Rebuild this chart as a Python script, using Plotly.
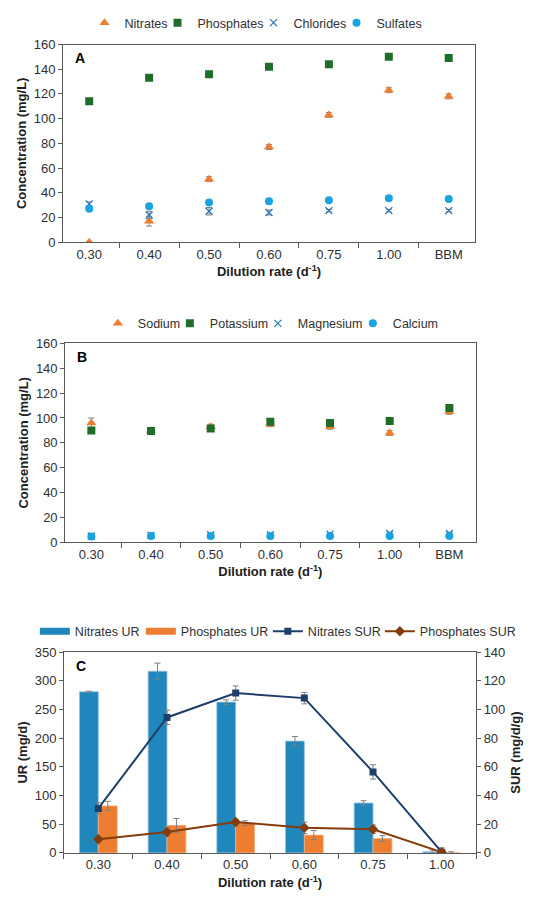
import plotly.graph_objects as go

# panel A / B categories
rates = ['0.30', '0.40', '0.50', '0.60', '0.75', '1.00', 'BBM']

# panel A - anions (mg/L)
nitrates = [0, 17, 51, 77, 103, 123, 118]
nitrates_err = [0.5, 4, 2, 2, 2, 2, 2]
phosphates = [114, 133, 136, 142, 144, 150, 149]
phosphates_err = [2, 2, 1.5, 1.5, 1.5, 1.5, 1.5]
chlorides = [31, 22, 25, 24, 25.5, 25.5, 25.5]
chlorides_err = [1.5, 3, 3, 2, 1, 1, 1]
sulfates = [27, 29, 32, 33, 34, 35.5, 35]
sulfates_err = [1, 1, 1, 1, 1, 1, 1]

# panel B - cations (mg/L)
sodium = [96, 90, 93, 95, 93, 88, 105]
sodium_err = [4, 1, 2, 2, 2, 2, 2]
potassium = [90, 89.5, 91.5, 97, 96, 97.5, 108]
potassium_err = [1, 1, 1, 1, 1, 1, 1]
magnesium = [5, 5.5, 6, 6, 6.5, 7, 7]
magnesium_err = [1, 1, 1, 1, 1, 1, 1]
calcium = [4.5, 5, 5, 5, 5, 5, 5]
calcium_err = [1, 1, 1, 1, 1, 1, 1]

# panel C - uptake rates
rates_c = ['0.30', '0.40', '0.50', '0.60', '0.75', '1.00']
nit_ur = [281, 317, 263, 195, 87, 2]
nit_ur_err = [1, 14, 4, 8, 4, 3]
pho_ur = [82, 48, 52, 31, 25, 0]
pho_ur_err = [8, 12, 4, 8, 5, 2]
nit_sur = [31, 94.5, 111.5, 108, 56.5, 0.5]
nit_sur_err = [4, 5, 5, 4, 5, 3]
pho_sur = [9.5, 14.5, 21.5, 17.5, 16.5, 0.5]
pho_sur_err = [1, 3, 2, 4, 3, 1]

FONT = 'Liberation Sans, Arial, sans-serif'
ORANGE = '#ED7D31'
GREEN = '#1E6E2A'
BLUE_X = '#2E75B6'
LIGHT_BLUE = '#19A3E0'
BAR_BLUE = '#1F87BC'
NAVY = '#1F3F6B'
BROWN = '#843C0C'
AX_LINE = '#595959'

fig = go.Figure()


def err(vals):
    return dict(type='data', array=vals, thickness=1, width=3, color='#808080')


def points(x, y, e, name, symbol, color, size, axes, leg, lw):
    marker = dict(symbol=symbol, size=size, color=color)
    if symbol == 'x-thin':
        marker['line'] = dict(width=1.3, color=color)
    return go.Scatter(x=x, y=y, error_y=err(e), mode='markers', name=name, marker=marker,
                      xaxis=axes[0], yaxis=axes[1], legend=leg, legendwidth=lw)


# --- panel A
fig.add_trace(points(rates, nitrates, nitrates_err, 'Nitrates', 'triangle-up', ORANGE, 9, ('x', 'y'), 'legend', 28))
fig.add_trace(points(rates, phosphates, phosphates_err, 'Phosphates', 'square', GREEN, 8, ('x', 'y'), 'legend', 51))
fig.add_trace(points(rates, chlorides, chlorides_err, 'Chlorides', 'x-thin', BLUE_X, 7, ('x', 'y'), 'legend', 38))
fig.add_trace(points(rates, sulfates, sulfates_err, 'Sulfates', 'circle', LIGHT_BLUE, 8, ('x', 'y'), 'legend', 45))

# --- panel B
fig.add_trace(points(rates, sodium, sodium_err, 'Sodium', 'triangle-up', ORANGE, 9, ('x2', 'y2'), 'legend2', 27))
fig.add_trace(points(rates, potassium, potassium_err, 'Potassium', 'square', GREEN, 8, ('x2', 'y2'), 'legend2', 43))
fig.add_trace(points(rates, magnesium, magnesium_err, 'Magnesium', 'x-thin', BLUE_X, 7, ('x2', 'y2'), 'legend2', 50))
fig.add_trace(points(rates, calcium, calcium_err, 'Calcium', 'circle', LIGHT_BLUE, 8, ('x2', 'y2'), 'legend2', 45))

# --- panel C
fig.add_trace(go.Bar(x=rates_c, y=nit_ur, error_y=err(nit_ur_err), name='Nitrates UR', marker_color=BAR_BLUE,
                     marker_line=dict(color='#9DC3E6', width=0.8), xaxis='x3', yaxis='y3', showlegend=False))
fig.add_trace(go.Bar(x=rates_c, y=pho_ur, error_y=err(pho_ur_err), name='Phosphates UR', marker_color=ORANGE,
                     marker_line=dict(color='#F4B183', width=0.8), xaxis='x3', yaxis='y3', showlegend=False))
# wide swatches for the bar series, Excel style
fig.add_trace(go.Scatter(x=[None], y=[None], mode='lines', name='Nitrates UR', line=dict(color=BAR_BLUE, width=7),
                         xaxis='x3', yaxis='y3', legend='legend3', legendwidth=61, hoverinfo='skip'))
fig.add_trace(go.Scatter(x=[None], y=[None], mode='lines', name='Phosphates UR', line=dict(color=ORANGE, width=7),
                         xaxis='x3', yaxis='y3', legend='legend3', legendwidth=82, hoverinfo='skip'))
fig.add_trace(go.Scatter(x=rates_c, y=nit_sur, error_y=err(nit_sur_err), mode='lines+markers', name='Nitrates SUR',
                         line=dict(color=NAVY, width=2), marker=dict(symbol='square', size=7, color=NAVY),
                         xaxis='x3', yaxis='y4', legend='legend3', legendwidth=67))
fig.add_trace(go.Scatter(x=rates_c, y=pho_sur, error_y=err(pho_sur_err), mode='lines+markers', name='Phosphates SUR',
                         line=dict(color=BROWN, width=2), marker=dict(symbol='diamond', size=8, color=BROWN),
                         xaxis='x3', yaxis='y4', legend='legend3', legendwidth=92))

TICKFONT = dict(family=FONT, size=13, color='#303030')
TITLEFONT = dict(family=FONT, size=13, color='#202020', weight='bold')
XTITLE = 'Dilution rate (d<sup>-1</sup>)'


def xax(domain, anchor):
    return dict(domain=domain, anchor=anchor, type='category', showgrid=False, showline=True, linecolor=AX_LINE,
                mirror=True, ticks='outside', tickson='boundaries', ticklen=5, tickcolor=AX_LINE,
                tickfont=TICKFONT, title=dict(text=XTITLE, font=TITLEFONT, standoff=6))


def yax(domain, anchor, rng, dtick, title):
    return dict(domain=domain, anchor=anchor, range=rng, dtick=dtick, showgrid=False, zeroline=False,
                showline=True, linecolor=AX_LINE, mirror=True, ticks='outside', ticklen=4, tickcolor=AX_LINE,
                tickfont=TICKFONT, title=dict(text=title, font=TITLEFONT, standoff=4))


def legend_at(xc, y):
    return dict(orientation='h', x=xc, xanchor='center', y=y, yanchor='middle',
                font=dict(family=FONT, size=12.5, color='#303030'), bgcolor='rgba(0,0,0,0)',
                itemwidth=30, tracegroupgap=0)


fig.update_layout(
    width=550, height=904,
    margin=dict(l=0, r=0, t=0, b=0),
    paper_bgcolor='white', plot_bgcolor='white',
    showlegend=True,
    barmode='group', bargap=0.45, bargroupgap=0,
    xaxis=xax([0.1, 0.849], 'y'),
    yaxis=yax([0.7445, 0.9668], 'x', [0, 160], 20, 'Concentration (mg/L)'),
    xaxis2=xax([0.104, 0.85], 'y2'),
    yaxis2=yax([0.407, 0.6305], 'x2', [0, 160], 20, 'Concentration (mg/L)'),
    xaxis3=xax([0.1018, 0.851], 'y3'),
    yaxis3=yax([0.0575, 0.2832], 'x3', [0, 350], 50, 'UR (mg/d)'),
    yaxis4=dict(overlaying='y3', anchor='x3', side='right', range=[0, 140], dtick=20, showgrid=False,
                zeroline=False, showline=True, linecolor=AX_LINE, ticks='outside', ticklen=4, tickcolor=AX_LINE,
                tickfont=TICKFONT, title=dict(text='SUR (mg/d/g)', font=TITLEFONT, standoff=6)),
    legend=legend_at(0.45, 0.991),
    legend2=legend_at(0.477, 0.6527),
    legend3=legend_at(0.487, 0.3064),
)

for label, xr, yr in [('A', 'x domain', 'y domain'), ('B', 'x2 domain', 'y2 domain'), ('C', 'x3 domain', 'y3 domain')]:
    fig.add_annotation(text=label, xref=xr, yref=yr, x=0.025, y=0.93, xanchor='left', yanchor='middle',
                       showarrow=False, font=dict(family=FONT, size=14, color='#000000', weight='bold'))

fig.write_html("out.html")
